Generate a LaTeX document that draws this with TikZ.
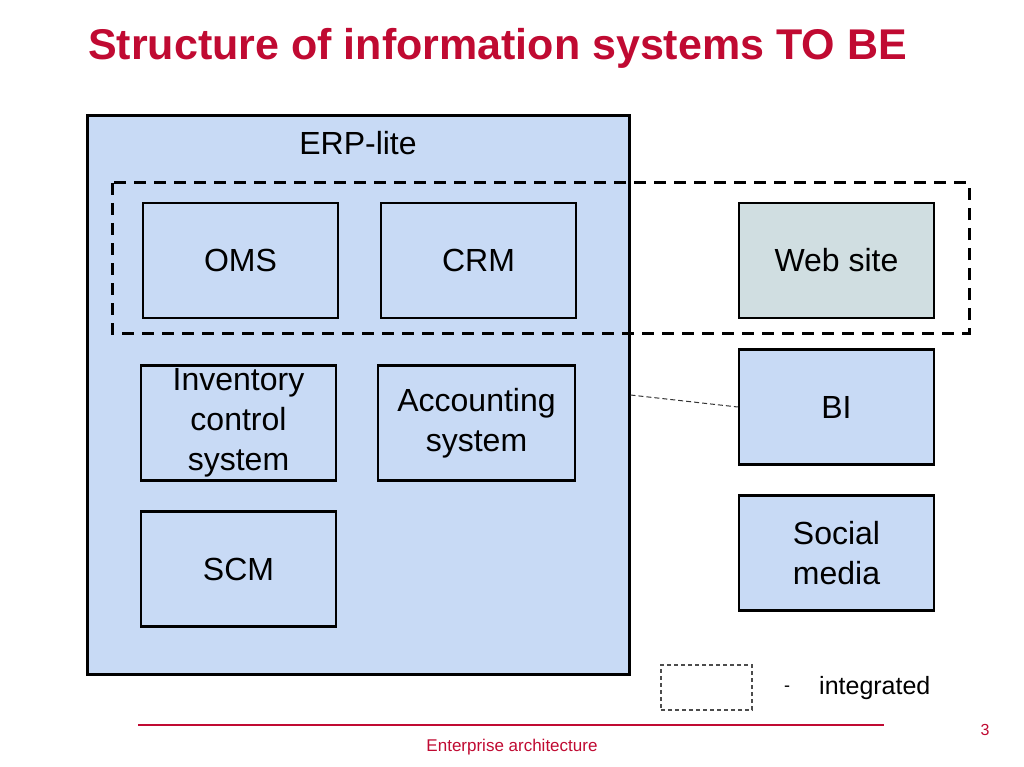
\documentclass[tikz,border=0pt]{standalone}
\usepackage{fontspec}
\setmainfont{Liberation Sans}
\usetikzlibrary{positioning}
\definecolor{tbred}{RGB}{192,10,50}
\definecolor{tbblue}{RGB}{200,218,245}
\definecolor{tbgrey}{RGB}{208,222,225}
\tikzstyle{sysbox} = [draw=black,line width=2.5pt,fill=tbblue,minimum width=195pt,minimum height=115pt,inner sep=0pt,align=center,font=\fontsize{32}{40}\selectfont]
\tikzstyle{intgroup} = [draw=black,line width=3pt,dash pattern=on 12pt off 8pt]
\tikzstyle{link} = [draw=black!80,line width=1pt,dash pattern=on 5pt off 3pt]

\begin{document}
\begin{tikzpicture}[x=1pt,y=-1pt]
\useasboundingbox (0,0) rectangle (1024,767);

% Title
\node[anchor=base west,inner sep=0pt,text=tbred,font=\bfseries\fontsize{43}{50}\selectfont] (title) at (88,60) {Structure of information systems TO BE};

% ERP-lite
\node[draw=black,line width=3pt,fill=tbblue,minimum width=542pt,minimum height=558pt,inner sep=0pt] (erp) at (358,395) {};
\node[font=\fontsize{32}{40}\selectfont,inner sep=0pt] (erplabel) at (358,143) {ERP-lite};

% Systems
\node[sysbox] (oms) at (240.5,260.5) {OMS};
\node[sysbox] (crm) at (478.5,260.5) {CRM};
\node[sysbox,fill=tbgrey] (web) at (836.5,260.5) {Web site};
\node[sysbox] (inv) at (238.5,423) {Inventory\\control\\system};
\node[sysbox,minimum width=197pt] (acc) at (476.5,423) {Accounting\\system};
\node[sysbox] (bi) at (836.5,407) {BI};
\node[sysbox] (scm) at (238.5,569) {SCM};
\node[sysbox] (soc) at (836.5,553) {Social\\media};

% Integrated group
\draw[intgroup] (112,183) rectangle (969,333);
\draw[link] (erp.east) -- (bi.west);

% Legend
\node[draw=black!70,line width=1.3pt,dash pattern=on 4pt off 3pt,minimum width=91pt,minimum height=45pt,inner sep=0pt] (legbox) at (706.5,687.5) {};
\node[font=\fontsize{18}{20}\selectfont,inner sep=0pt] (legdash) at (787,689) {-};
\node[anchor=base west,font=\fontsize{25}{30}\selectfont,inner sep=0pt] (legtext) at (819,694) {integrated};

% Footer
\coordinate (fl) at (138,725);
\coordinate (fr) at (884,725);
\draw[tbred,line width=2pt] (fl) -- (fr);
\node[text=tbred,font=\fontsize{16}{18}\selectfont,inner sep=0pt] (page) at (985,730) {3};
\node[text=tbred,font=\fontsize{17}{20}\selectfont,inner sep=0pt] (foot) at (512,747) {Enterprise architecture};
\end{tikzpicture}
\end{document}
